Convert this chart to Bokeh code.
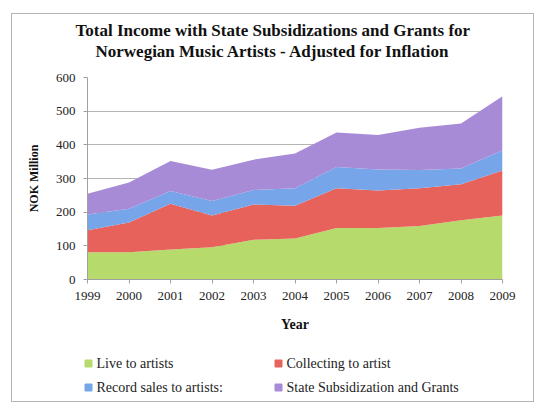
from bokeh.core.properties import value
from bokeh.embed import file_html
from bokeh.layouts import column
from bokeh.models import ColumnDataSource, Range1d, FixedTicker, Title
from bokeh.plotting import figure
from bokeh.resources import INLINE

years = [1999, 2000, 2001, 2002, 2003, 2004, 2005, 2006, 2007, 2008, 2009]
live = [81, 81, 89, 96, 118, 122, 153, 153, 159, 176, 190]
collecting = [65, 88, 136, 94, 105, 97, 118, 111, 112, 107, 134]
record = [47, 41, 38, 43, 43, 52, 63, 63, 54, 47, 60]
state = [62, 78, 89, 93, 90, 103, 103, 102, 126, 133, 160]

names = ["Live to artists", "Collecting to artist",
         "Record sales to artists:", "State Subsidization and Grants"]
keys = ["live", "collecting", "record", "state"]
colors = ["#b6db6c", "#e8625c", "#76a5ea", "#a78bd6"]

source = ColumnDataSource(data=dict(year=years, live=live, collecting=collecting,
                                    record=record, state=state))

SERIF = "Liberation Serif"
W = 521

p = figure(width=W, height=330, output_backend="svg", toolbar_location=None,
           title=None, x_range=Range1d(1999, 2009), y_range=Range1d(0, 600),
           min_border_left=75, min_border_right=31, min_border_top=63,
           min_border_bottom=65)
p.frame_align = False
p.outline_line_color = None
p.background_fill_color = "white"
p.border_fill_color = "white"

p.varea_stack(keys, x="year", color=colors, source=source)

# axes
p.xaxis.ticker = FixedTicker(ticks=years)
p.yaxis.ticker = FixedTicker(ticks=[0, 100, 200, 300, 400, 500, 600])
for ax in (p.xaxis, p.yaxis):
    ax.axis_line_color = "#a0a0a0"
    ax.major_tick_line_color = "#a0a0a0"
    ax.major_tick_out = 4
    ax.major_tick_in = 0
    ax.minor_tick_line_color = None
    ax.major_label_text_font = SERIF
    ax.major_label_text_font_size = "13px"
    ax.major_label_text_color = "#222222"
    ax.axis_label_text_font = SERIF
    ax.axis_label_text_font_style = "bold"
    ax.axis_label_text_color = "#111111"
p.xaxis.axis_label = "Year"
p.xaxis.axis_label_text_font_size = "14px"
p.xaxis.major_label_standoff = 8
p.xaxis.axis_label_standoff = 14
p.yaxis.axis_label = "NOK Million"
p.yaxis.axis_label_text_font_size = "12px"
p.yaxis.major_label_standoff = 8
p.yaxis.axis_label_standoff = 12

p.xgrid.grid_line_color = None
p.ygrid.grid_line_color = "#b4b4b4"
p.ygrid.grid_line_width = 1

# title: spacer next to the frame, then line 2, then line 1
p.add_layout(Title(text="\u00a0", text_font_size="13px", standoff=0), "above")
p.add_layout(Title(text="Norwegian Music Artists - Adjusted for Inflation",
                   align="left", offset=8, standoff=0, text_font=SERIF,
                   text_font_size="17px", text_font_style="bold",
                   text_color="#111111"), "above")
p.add_layout(Title(text="Total Income with State Subsidizations and Grants for",
                   align="left", offset=-12, standoff=0, text_font=SERIF,
                   text_font_size="17px", text_font_style="bold",
                   text_color="#111111"), "above")

# legend strip below the chart, drawn in its own pixel-sized figure
LH = 57
leg = figure(width=W, height=LH, output_backend="svg", toolbar_location=None,
             x_range=Range1d(0, W), y_range=Range1d(0, LH),
             min_border=0, outline_line_color=None)
leg.frame_align = False
leg.axis.visible = False
leg.grid.visible = False
lx = [76 + 190 * (i % 2) for i in range(len(names))]
ly = [LH - 19 - 24 * (i // 2) for i in range(len(names))]
lsrc = ColumnDataSource(data=dict(x=lx, y=ly, tx=[v + 8 for v in lx], name=names,
                                  color=colors))
leg.scatter("x", "y", marker="square", size=7, color="color", source=lsrc)
leg.text("tx", "y", text="name", source=lsrc, text_font=value(SERIF),
         text_font_size="14px", text_baseline="middle", text_color="#222222")

layout = column(p, leg, spacing=0, margin=(13, 0, 0, 11))
layout.styles = {"border": "1px solid #b4b4b4", "background": "white"}

open("out.html", "w").write(file_html(layout, INLINE))
